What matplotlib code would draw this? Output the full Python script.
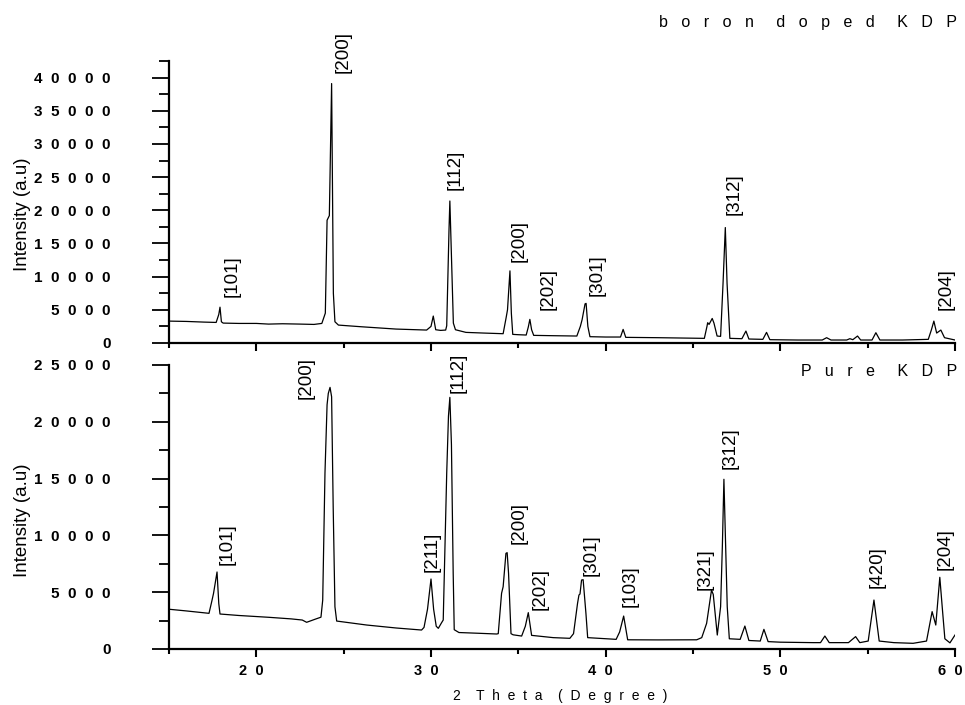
import matplotlib
matplotlib.use("Agg")
import matplotlib.pyplot as plt
import matplotlib.transforms as mtransforms
from matplotlib.ticker import MultipleLocator

plt.rcParams['font.family'] = ['Liberation Sans', 'DejaVu Sans']

# ---------------- data ----------------
boron_x = [15.0, 16.0, 17.0, 17.7, 17.85, 17.92, 18.0, 18.1, 19.0, 20.0, 20.7, 21.5, 22.5, 23.3,
           23.75, 23.95, 24.05, 24.18, 24.31, 24.41, 24.50, 24.70, 26.0, 28.0, 29.75, 30.0, 30.13,
           30.27, 30.55, 30.84, 30.90, 31.03, 31.08, 31.15, 31.28, 31.40, 32.0, 33.0, 34.13, 34.30,
           34.38, 34.52, 34.60, 34.68, 35.0, 35.45, 35.57, 35.66, 35.76, 35.88, 37.0, 38.35, 38.55,
           38.65, 38.82, 38.88, 38.98, 39.1, 40.0, 40.85, 41.0, 41.15, 43.0, 45.65, 45.80, 45.84,
           45.92, 46.10, 46.20, 46.38, 46.58, 46.72, 46.85, 46.95, 47.11, 47.8, 48.03, 48.2, 49.0,
           49.21, 49.4, 51.0, 52.4, 52.65, 52.9, 53.8, 53.98, 54.15, 54.42, 54.6, 55.25, 55.47,
           55.7, 57.0, 58.47, 58.65, 58.79, 58.95, 59.19, 59.40, 60.0]
boron_y = [3300, 3250, 3150, 3100, 4300, 5400, 3200, 3000, 2950, 2950, 2850, 2900, 2850, 2800,
           2950, 4500, 18500, 19200, 39100, 7500, 3200, 2700, 2450, 2100, 1950, 2500, 4060,
           2000, 1900, 1950, 2600, 17000, 21400, 15000, 3000, 2000, 1600, 1500, 1400, 3800,
           5000, 10870, 4500, 1300, 1250, 1200, 2400, 3560, 2000, 1150, 1100, 1050, 2500,
           3500, 5900, 5970, 2500, 950, 900, 900, 2050, 850, 800, 700, 2500, 3060,
           2800, 3700, 3000, 1050, 1000, 9000, 17400, 9000, 700, 650, 1800, 600, 550,
           1600, 500, 450, 450, 800, 450, 450, 650, 500, 1050, 450, 450, 1550,
           450, 450, 550, 2000, 3300, 1500, 1950, 800, 450]

pure_x = [15.0, 16.0, 17.29, 17.45, 17.55, 17.75, 17.85, 17.92, 19.0, 20.72, 22.0, 22.63, 22.88,
          23.4, 23.7, 23.8, 23.93, 24.05, 24.12, 24.22, 24.31, 24.40, 24.50, 24.60, 26.32, 28.0,
          29.46, 29.6, 29.8, 30.0, 30.15, 30.3, 30.42, 30.6, 30.7, 30.9, 31.0, 31.08, 31.17, 31.27,
          31.33, 31.6, 32.8, 33.76, 33.85, 34.04, 34.13, 34.29, 34.36, 34.44, 34.58, 34.7, 35.19,
          35.4, 35.57, 35.76, 37.0, 37.95, 38.16, 38.39, 38.47, 38.53, 38.62, 38.71, 38.87, 38.97,
          40.6, 40.8, 41.03, 41.26, 43.0, 45.21, 45.5, 45.78, 46.06, 46.16, 46.39, 46.58, 46.68,
          46.77, 46.87, 46.96, 47.08, 47.7, 47.97, 48.2, 48.85, 49.06, 49.3, 50.0, 51.88, 52.3,
          52.55, 52.8, 53.9, 54.31, 54.55, 55.03, 55.36, 55.66, 56.5, 57.6, 58.37, 58.69, 58.9,
          59.13, 59.29, 59.42, 59.71, 60.0]
pure_y = [3500, 3350, 3140, 4200, 4900, 6780, 4000, 3080, 2950, 2790, 2650, 2550, 2350,
          2640, 2800, 4300, 15500, 21500, 22500, 23030, 22200, 12500, 3720, 2460, 2110, 1850,
          1670, 1900, 3500, 6160, 3500, 2000, 1820, 2300, 2550, 15500, 20500, 22150, 18000, 6690,
          1700, 1450, 1380, 1320, 1350, 4900, 5480, 8420, 8480, 6660, 1350, 1250, 1140,
          2000, 3200, 1200, 1000, 940, 1350, 4020, 4750, 4840, 6070, 6100, 3140, 1000,
          850, 1500, 2900, 810, 800, 810, 1000, 2260, 5190, 4800, 1230, 3720, 9000,
          14940, 9000, 3720, 900, 850, 2020, 750, 700, 1730, 650, 600, 560, 560,
          1140, 560, 560, 1090, 560, 700, 4310, 700, 560, 500, 700, 3290, 2110,
          6310, 3290, 900, 540, 1230]

boron_labels = ["[101]", "[200]", "[112]", "[200]", "[202]", "[301]", "[312]", "[204]"]
boron_label_x = [18.6, 24.96, 31.37, 35.03, 36.69, 39.5, 47.34, 59.48]
boron_label_y = [6900, 40750, 23000, 12200, 4960, 7070, 19250, 4960]

pure_labels = ["[101]", "[200]", "[211]", "[112]", "[200]", "[202]", "[301]", "[103]",
               "[321]", "[312]", "[420]", "[204]"]
pure_label_x = [18.35, 22.86, 30.08, 31.54, 35.03, 36.24, 39.16, 41.41, 45.7, 47.11, 55.56, 59.44]
pure_label_y = [7390, 22000, 6780, 22540, 9240, 3430, 6430, 3700, 5190, 15850, 5370, 6950]

x_ticks = [20, 30, 40, 50, 60]
boron_yticks = [0, 5000, 10000, 15000, 20000, 25000, 30000, 35000, 40000]
pure_yticks = [0, 5000, 10000, 15000, 20000, 25000]

boron_title = "boron doped KDP"
pure_title = "Pure KDP"
x_title = "2 Theta (Degree)"
y_title = "Intensity (a.u)"


def spaced(text, gap=2, word_gap=4):
    words = text.split(" ")
    return (" " * word_gap).join((" " * gap).join(w) for w in words)


# ---------------- figure ----------------
fig = plt.figure(figsize=(9.65, 7.05), dpi=100)
W, H = 965, 705
ax1 = fig.add_axes([169 / W, 1 - 343 / H, 786 / W, 282 / H])
ax2 = fig.add_axes([169 / W, 1 - 649 / H, 786 / W, 284 / H])

for ax in (ax1, ax2):
    ax.set_xlim(15, 60)
    for s in ("top", "right"):
        ax.spines[s].set_visible(False)
    for s in ("left", "bottom"):
        ax.spines[s].set_linewidth(1.6)
    ax.set_facecolor("white")
    ax.xaxis.set_minor_locator(MultipleLocator(5))
    ax.yaxis.set_minor_locator(MultipleLocator(2500))
    ax.tick_params(axis="y", which="major", length=12.2, width=1.3, direction="out", pad=30)
    ax.tick_params(axis="y", which="minor", length=7.2, width=1.3, direction="out")
    ax.tick_params(axis="x", which="major", length=5.8, width=1.5, direction="out", pad=5)
    ax.tick_params(axis="x", which="minor", length=3.6, width=1.5, direction="out")

ax1.plot(boron_x, boron_y, color="black", lw=0.9)
ax2.plot(pure_x, pure_y, color="black", lw=0.9)

ax1.set_ylim(0, 42500)
ax2.set_ylim(0, 25000)

ax1.set_yticks(boron_yticks, labels=[spaced(str(v)) for v in boron_yticks],
               fontweight="bold", fontsize=11)
ax2.set_yticks(pure_yticks, labels=[spaced(str(v)) for v in pure_yticks],
               fontweight="bold", fontsize=11)
ax1.set_xticks(x_ticks, labels=[""] * len(x_ticks))
ax2.set_xticks(x_ticks, labels=[spaced(str(v)) for v in x_ticks],
               fontweight="bold", fontsize=10.5)

shift = mtransforms.ScaledTranslation(-5 / 100, 0, fig.dpi_scale_trans)
for lbl in ax2.get_xticklabels():
    lbl.set_transform(lbl.get_transform() + shift)

for lab, lx, ly in zip(boron_labels, boron_label_x, boron_label_y):
    ax1.text(lx, ly, lab, rotation=90, ha="center", va="bottom", fontsize=13.5)
for lab, lx, ly in zip(pure_labels, pure_label_x, pure_label_y):
    ax2.text(lx, ly, lab, rotation=90, ha="center", va="bottom", fontsize=13.5)

fig.text(957 / W, 1 - 23 / H, spaced(boron_title, 3, 5), ha="right", va="center", fontsize=11.5)
fig.text(957 / W, 1 - 372 / H, spaced(pure_title, 3, 5), ha="right", va="center", fontsize=11.5)
fig.text(560 / W, 1 - 696 / H, spaced(x_title, 2, 4), ha="center", va="center", fontsize=10)
fig.text(22.5 / W, 1 - 214 / H, y_title, rotation=90, ha="center", va="center", fontsize=13.5)
fig.text(22.5 / W, 1 - 520.5 / H, y_title, rotation=90, ha="center", va="center", fontsize=13.5)

fig.savefig("out.png", dpi=100, facecolor="white")
